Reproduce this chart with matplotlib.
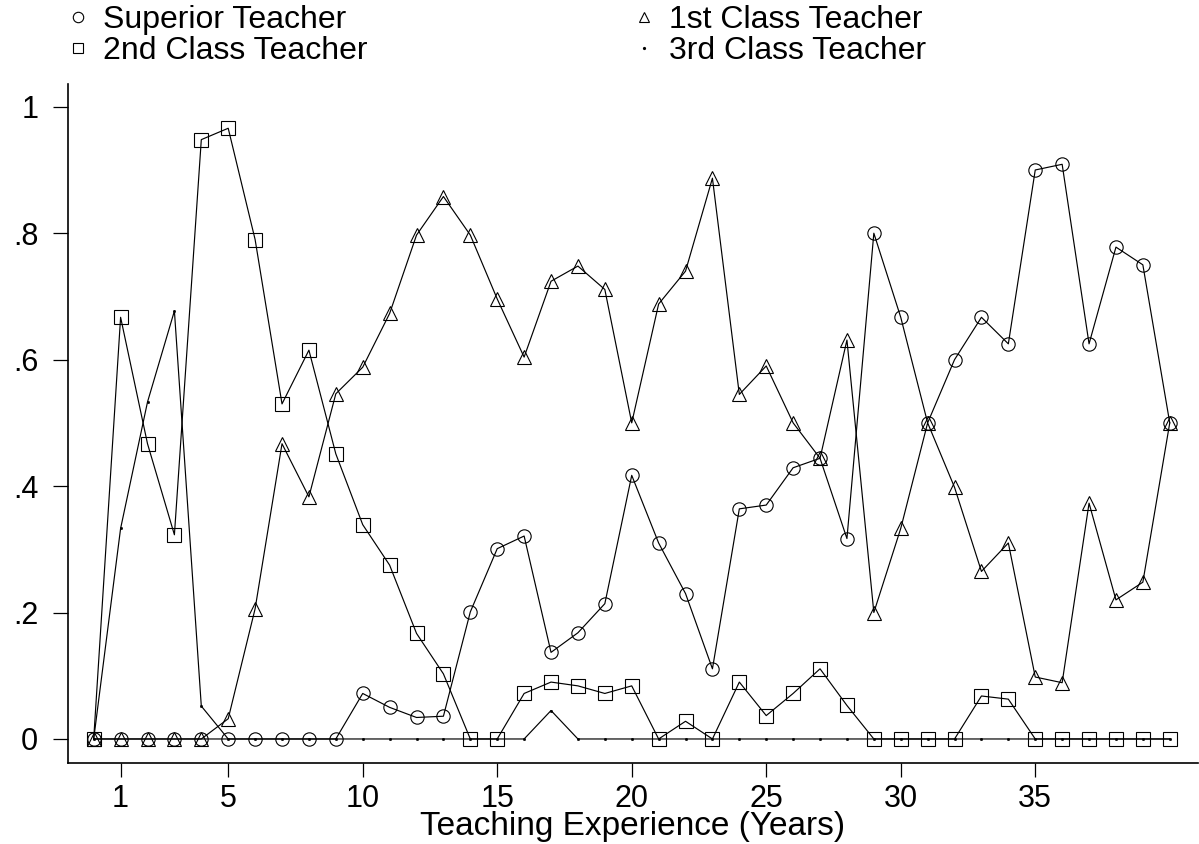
import matplotlib
matplotlib.use("Agg")
import matplotlib.pyplot as plt
from matplotlib.lines import Line2D

plt.rcParams['font.family'] = ['Liberation Sans', 'DejaVu Sans']

years = list(range(0, 41))
superior = [0, 0, 0, 0, 0, 0, 0, 0, 0, 0,
            0.072, 0.050, 0.034, 0.036, 0.201, 0.301, 0.321, 0.137, 0.168, 0.214,
            0.417, 0.310, 0.230, 0.111, 0.364, 0.370, 0.429, 0.444, 0.317, 0.800,
            0.667, 0.500, 0.600, 0.667, 0.625, 0.900, 0.909, 0.625, 0.778, 0.750, 0.500]
first_class = [0, 0, 0, 0, 0, 0.032, 0.206, 0.467, 0.383, 0.546,
               0.588, 0.673, 0.797, 0.858, 0.797, 0.696, 0.604, 0.724, 0.748, 0.711,
               0.500, 0.688, 0.740, 0.887, 0.545, 0.590, 0.500, 0.444, 0.631, 0.200,
               0.333, 0.500, 0.398, 0.265, 0.310, 0.098, 0.089, 0.373, 0.220, 0.248, 0.500]
second_class = [0, 0.667, 0.467, 0.323, 0.948, 0.966, 0.790, 0.530, 0.615, 0.451,
                0.339, 0.275, 0.167, 0.103, 0, 0, 0.072, 0.090, 0.084, 0.072,
                0.084, 0, 0.028, 0, 0.090, 0.037, 0.072, 0.111, 0.053, 0,
                0, 0, 0, 0.068, 0.063, 0, 0, 0, 0, 0, 0]
third_class = [0, 0.333, 0.533, 0.677, 0.052, 0, 0, 0, 0, 0,
               0, 0, 0, 0, 0, 0, 0, 0.045, 0, 0,
               0, 0, 0, 0, 0, 0, 0, 0, 0, 0,
               0, 0, 0, 0, 0, 0, 0, 0, 0, 0, 0]

series_labels = ["Superior Teacher", "1st Class Teacher", "2nd Class Teacher", "3rd Class Teacher"]
xtick_values = [1, 5, 10, 15, 20, 25, 30, 35]
xtick_labels = ["1", "5", "10", "15", "20", "25", "30", "35"]
ytick_values = [0, 0.2, 0.4, 0.6, 0.8, 1.0]
ytick_labels = ["0", ".2", ".4", ".6", ".8", "1"]
x_label = "Teaching Experience (Years)"

W, H = 1199, 844
fig = plt.figure(figsize=(W / 100, H / 100), dpi=100)
left_px, right_px, top_px, bottom_px = 67.5, 1198.0, 84.0, 763.0
ax = fig.add_axes([left_px / W, 1 - bottom_px / H, (right_px - left_px) / W, (bottom_px - top_px) / H])

lw = 0.85
ms = 9.6
mew = 0.8
kw = dict(color='black', linewidth=lw, markersize=ms, markeredgewidth=mew,
          markerfacecolor='none', markeredgecolor='black')

ax.plot(years, third_class, marker='o', color='black', linewidth=lw,
        markersize=1.6, markeredgewidth=0.5, zorder=2)
ax.plot(years, superior, marker='o', **kw, zorder=3)
ax.plot(years, first_class, marker='^', **kw, zorder=3)
ax.plot(years, second_class, marker='s', **kw, zorder=3)

ax.set_xlim(-0.974, 41.05)
ax.set_ylim(-0.038, 1.036)

for side in ['top', 'right']:
    ax.spines[side].set_visible(False)
for side in ['left', 'bottom']:
    ax.spines[side].set_linewidth(1.2)

ax.set_xticks(xtick_values)
ax.set_xticklabels(xtick_labels)
ax.set_yticks(ytick_values)
ax.set_yticklabels(ytick_labels)
ax.tick_params(axis='x', direction='out', length=10, width=0.9, pad=5, labelsize=22)
ax.tick_params(axis='y', direction='out', length=11, width=0.9, pad=10, labelsize=22)
ax.set_xlabel(x_label, fontsize=24, labelpad=-2)

def mk(marker, size=7.5):
    return Line2D([], [], linestyle='none', marker=marker, markersize=size,
                  markerfacecolor='none', markeredgecolor='black', markeredgewidth=0.8)

leg_kw = dict(loc='upper left', frameon=False, fontsize=23, handlelength=0.7,
              handletextpad=0.42, labelspacing=0.03, borderpad=0, borderaxespad=0)
fig.legend([mk('o'), mk('s')], [series_labels[0], series_labels[2]],
           bbox_to_anchor=(66.8 / W, 1 - 5 / H), **leg_kw)
dot = Line2D([], [], linestyle='none', marker='o', markersize=1.3, color='black')
fig.legend([mk('^'), dot], [series_labels[1], series_labels[3]],
           bbox_to_anchor=(632.8 / W, 1 - 5 / H), **leg_kw)

fig.savefig("out.png", dpi=100)
